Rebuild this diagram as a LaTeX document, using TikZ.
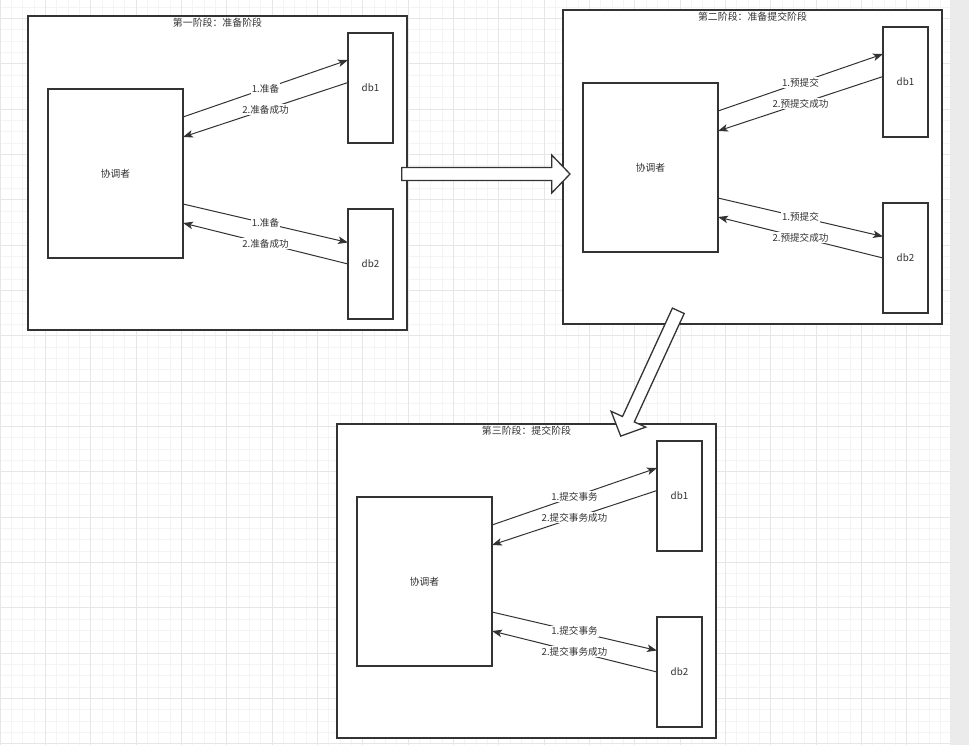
\documentclass[tikz,border=0pt]{standalone}
\usepackage{fontspec}
\setmainfont{Noto Sans CJK SC}
\usetikzlibrary{arrows.meta,calc}
\definecolor{ln}{HTML}{333333}
\definecolor{gminor}{HTML}{F4F4F4}
\definecolor{gmajor}{HTML}{E6E6E6}
\definecolor{band}{HTML}{EBEBEB}
\tikzset{
  stagebox/.style={draw=ln, line width=1.3pt, fill=white, minimum width=379pt, minimum height=314pt, inner sep=0pt, outer sep=0pt},
  coordbox/.style={draw=ln, line width=1.3pt, fill=white, minimum width=135pt, minimum height=169pt, inner sep=0pt, outer sep=0pt, text=ln, font=\fontsize{9.8}{11}\selectfont},
  dbbox/.style={draw=ln, line width=1.3pt, fill=white, minimum width=45pt, minimum height=110pt, inner sep=0pt, outer sep=0pt, text=ln, font=\fontsize{9.8}{11}\selectfont},
  titletext/.style={inner sep=0pt, text=ln, font=\fontsize{9.9}{11}\selectfont},
  msg/.style={draw=ln, line width=1pt, -{Stealth[length=10pt,width=7.5pt,inset=2.5pt]}},
  msglabel/.style={fill=white, inner sep=1pt, text=ln, font=\fontsize{9.6}{11}\selectfont},
  bigarrow/.style={draw=ln, line width=1.3pt, fill=white, line join=miter},
}
\newcommand\drawstage[6]{%
  \node[stagebox, anchor=north west] (#1s) at (#2,#3) {};
  \node[titletext] (#1t) at ($(#1s.north)+(0,7)$) {#4};
  \node[coordbox, anchor=north west] (#1c) at ($(#1s.north west)+(20,73)$) {协调者};
  \node[dbbox, anchor=north west] (#1a) at ($(#1c.north east)+(165,-56)$) {db1};
  \node[dbbox, anchor=north west] (#1b) at ($(#1c.north east)+(165,120)$) {db2};
  \draw[msg] ($(#1c.north east)+(0,28)$) -- node[msglabel] {#5} ($(#1a.north west)+(0,27)$);
  \draw[msg] ($(#1a.north west)+(0,49.5)$) -- node[msglabel] {#6} ($(#1c.north east)+(0,48)$);
  \draw[msg] ($(#1c.north east)+(0,115)$) -- node[msglabel] {#5} ($(#1b.north west)+(0,33.5)$);
  \draw[msg] ($(#1b.north west)+(0,55)$) -- node[msglabel] {#6} ($(#1c.north east)+(0,134)$);
}
\begin{document}
\begin{tikzpicture}[x=1pt, y=-1pt]
  \useasboundingbox (0,0) rectangle (969,745);
  \fill[white] (0,0) rectangle (969,745);
  % grid
  \foreach \k in {0,...,85} {
    \draw[gminor, line width=1pt] ({\k*11.3333},0) -- ({\k*11.3333},745);
  }
  \foreach \k in {0,...,65} {
    \draw[gminor, line width=1pt] (0,{7.27+\k*11.3333}) -- (969,{7.27+\k*11.3333});
  }
  \foreach \k in {0,...,21} {
    \draw[gmajor, line width=1pt] ({\k*45.3333},0) -- ({\k*45.3333},745);
  }
  \foreach \k in {0,...,16} {
    \draw[gmajor, line width=1pt] (0,{18.6+\k*45.3333}) -- (969,{18.6+\k*45.3333});
  }
  \fill[band] (950,0) rectangle (969,745);
  % stages
  \drawstage{p}{28}{16}{第一阶段：准备阶段}{1.准备}{2.准备成功}
  \drawstage{q}{563}{10}{第二阶段：准备提交阶段}{1.预提交}{2.预提交成功}
  \drawstage{r}{337}{424}{第三阶段：提交阶段}{1.提交事务}{2.提交事务成功}
  % big arrows
  \draw[bigarrow] (401.7,167.5) -- (551.7,167.5) -- (551.7,155) -- (570,174) -- (551.7,193) -- (551.7,180.5) -- (401.7,180.5) -- cycle;
  \draw[bigarrow] (672.4,308.1) -- (622.5,416.5) -- (611.1,411.3) -- (620.7,436.1) -- (645.7,427.1) -- (634.3,421.9) -- (684.2,313.5) -- cycle;
\end{tikzpicture}
\end{document}
